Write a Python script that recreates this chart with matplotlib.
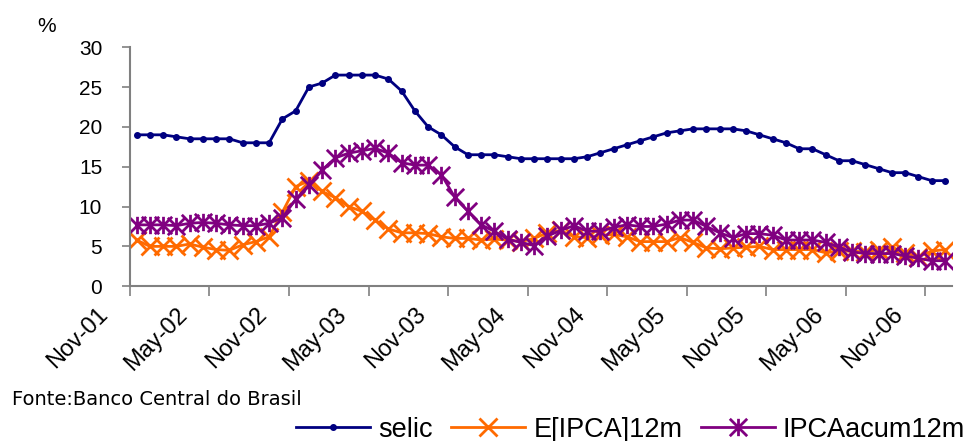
import matplotlib
matplotlib.use('Agg')
import matplotlib.pyplot as plt
import matplotlib.transforms as mtransforms
from matplotlib.path import Path

plt.rcParams['font.family'] = ['Liberation Sans', 'DejaVu Sans']

# monthly, Nov-01 .. Dec-06
selic = [19.0, 19.0, 19.0, 18.75, 18.5, 18.5, 18.5, 18.5, 18.0, 18.0, 18.0, 21.0,
         22.0, 25.0, 25.5, 26.5, 26.5, 26.5, 26.5, 26.0, 24.5, 22.0, 20.0, 19.0,
         17.5, 16.5, 16.5, 16.5, 16.25, 16.0, 16.0, 16.0, 16.0, 16.0, 16.25, 16.75,
         17.25, 17.75, 18.25, 18.75, 19.25, 19.5, 19.75, 19.75, 19.75, 19.75, 19.5, 19.0,
         18.5, 18.0, 17.25, 17.25, 16.5, 15.75, 15.75, 15.25, 14.75, 14.25, 14.25, 13.75,
         13.25, 13.25]
e_ipca = [5.8, 5.0, 5.0, 5.0, 5.3, 4.9, 4.6, 4.5, 5.2, 5.6, 6.2, 9.3,
          12.5, 13.2, 11.9, 11.1, 10.0, 9.4, 8.3, 7.2, 6.7, 6.7, 6.6, 6.2,
          6.0, 6.0, 5.8, 5.9, 5.8, 5.6, 6.0, 6.7, 7.0, 6.2, 6.1, 6.4,
          6.5, 6.2, 5.6, 5.6, 5.6, 6.1, 5.5, 4.8, 4.7, 4.8, 4.9, 5.0,
          4.6, 4.6, 4.6, 4.6, 4.2, 4.4, 4.4, 4.3, 4.6, 4.9, 4.2, 3.7,
          4.4, 4.6]
ipca_acum = [7.7, 7.7, 7.7, 7.6, 7.9, 8.0, 7.9, 7.7, 7.6, 7.6, 7.9, 8.6,
             10.9, 12.7, 14.6, 16.1, 16.7, 17.0, 17.3, 16.7, 15.5, 15.2, 15.2, 14.0,
             11.2, 9.4, 7.7, 6.9, 5.9, 5.5, 5.1, 6.3, 7.0, 7.6, 6.9, 6.9,
             7.4, 7.7, 7.5, 7.5, 7.8, 8.3, 8.3, 7.5, 6.7, 6.1, 6.6, 6.6,
             6.4, 5.8, 5.8, 5.8, 5.5, 4.9, 4.3, 4.1, 4.1, 4.1, 3.8, 3.5,
             3.2, 3.2]
tick_labels = ['Nov-01', 'May-02', 'Nov-02', 'May-03', 'Nov-03', 'May-04',
               'Nov-04', 'May-05', 'Nov-05', 'May-06', 'Nov-06']

x = list(range(len(selic)))

# excel style star marker: vertical line plus an x
star = Path([(0, -1), (0, 1), (-1, -1), (1, 1), (-1, 1), (1, -1)],
            [Path.MOVETO, Path.LINETO] * 3)

fig = plt.figure(figsize=(9.7, 4.41), dpi=100)
ax = fig.add_axes([0.134, 0.351, 0.847, 0.542])

l1, = ax.plot(x, selic, color='#000080', lw=2, marker='o', ms=4, label='selic')
l2, = ax.plot(x, e_ipca, color='#FF6A00', lw=2, marker='x', ms=13, mew=2,
              label='E[IPCA]12m')
l3, = ax.plot(x, ipca_acum, color='#800080', lw=2, marker=star, ms=12.5, mew=2,
              label='IPCAacum12m')

ax.set_xlim(-0.5, len(x) - 0.5)
ax.set_ylim(0, 30)
ax.set_yticks(range(0, 31, 5))
ax.set_xticks([-0.5 + 6 * i for i in range(len(tick_labels))])
ax.set_xticklabels(tick_labels, rotation=45, ha='right', va='center',
                   rotation_mode='anchor', fontsize=17)
ax.tick_params(axis='y', labelsize=15, length=6, width=1.2, color='#808080', pad=14)
ax.tick_params(axis='x', length=7, width=1.2, color='#808080', pad=0)

# shift rotated labels down-left like the excel original
shift = mtransforms.ScaledTranslation(-0.25, -0.155, fig.dpi_scale_trans)
for lab in ax.get_xticklabels():
    lab.set_transform(lab.get_transform() + shift)

for s in ['top', 'right']:
    ax.spines[s].set_visible(False)
for s in ['left', 'bottom']:
    ax.spines[s].set_color('#808080')
    ax.spines[s].set_linewidth(1.5)

fig.text(0.048, 0.941, '%', fontsize=15, ha='center', va='center')
fig.text(0.0124, 0.093, 'Fonte:Banco Central do Brasil', fontsize=14,
         family='DejaVu Sans', ha='left', va='center')

fig.legend(handles=[l1, l2, l3], loc='center right', bbox_to_anchor=(0.995, 0.026),
           ncol=3, frameon=False, fontsize=19.5, handlelength=2.74,
           handletextpad=0.3, columnspacing=0.67, borderaxespad=0, borderpad=0)

fig.savefig('out.png', dpi=100)
